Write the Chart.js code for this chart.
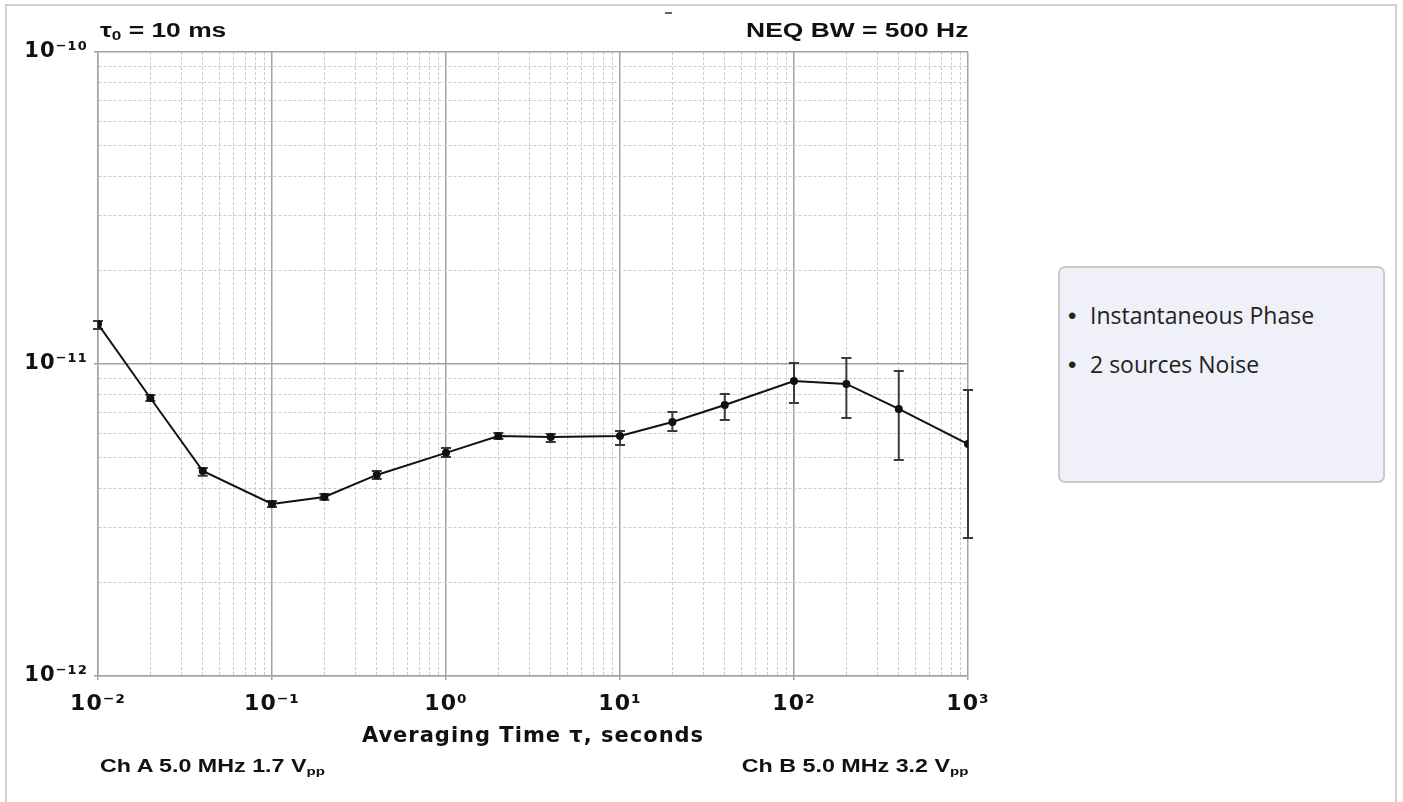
<!DOCTYPE html>
<html>
<head>
<meta charset="utf-8">
<script src="https://cdn.jsdelivr.net/npm/chart.js@4"></script>
<style>
  html, body { margin: 0; padding: 0; width: 1403px; height: 802px; overflow: hidden; background: #fff; }
  #frame { position: absolute; left: 5px; top: 4px; width: 1392px; height: 900px; box-sizing: border-box; border: 2px solid #cfcfcf; }
  #wrap { position: absolute; left: 0; top: 0; width: 1403px; height: 802px; }
  .lbl { position: absolute; font-family: 'Liberation Sans', Arial, sans-serif; font-weight: bold; color: #111; white-space: nowrap; }
  .lbl sub { font-size: 0.65em; vertical-align: -0.25em; }
  #tau0 { left: 100px; top: 20px; font-size: 20px; line-height: 20px; transform: scaleX(1.32); transform-origin: left; }
  #neq { right: 435px; top: 20px; font-size: 20px; line-height: 20px; transform: scaleX(1.32); transform-origin: right; }
  #chA { left: 100px; top: 758px; font-size: 17.5px; line-height: 17.5px; transform: scaleX(1.33); transform-origin: left; }
  #chB { right: 435px; top: 758px; font-size: 17.5px; line-height: 17.5px; transform: scaleX(1.33); transform-origin: right; }
  #speck { position: absolute; left: 665px; top: 12px; width: 7px; height: 2px; background: #666; }
  #legendBox { position: absolute; left: 1058px; top: 266px; width: 327px; height: 217px; box-sizing: border-box;
               border: 2px solid #cacaca; border-radius: 7px; background: #eff0f8; }
  .item { position: absolute; font-family: 'Open Sans', 'Noto Sans', sans-serif; font-size: 23px; line-height: 23px; color: #222; white-space: nowrap; }
  .bullet { position: absolute; font-family: 'Liberation Sans', Arial, sans-serif; font-size: 24px; line-height: 24px; color: #222; }
</style>
</head>
<body>
<div id="frame"></div>
<div id="wrap"><canvas id="graph"></canvas></div>
<div id="speck"></div>
<div class="lbl" id="tau0">τ<sub>0</sub> = 10 ms</div>
<div class="lbl" id="neq">NEQ BW = 500 Hz</div>
<div class="lbl" id="chA">Ch A 5.0 MHz 1.7 V<sub>pp</sub></div>
<div class="lbl" id="chB">Ch B 5.0 MHz 3.2 V<sub>pp</sub></div>
<div id="legendBox"></div>
<div class="bullet" style="left:1068px; top:304px;">•</div>
<div class="item" style="left:1090px; top:304px;" id="item1"></div>
<div class="bullet" style="left:1068px; top:353px;">•</div>
<div class="item" style="left:1090px; top:353px;" id="item2"></div>
<script>
// averaging time tau (s) and the measured deviation with its error bar ends
const tau = [0.01, 0.02, 0.04, 0.1, 0.2, 0.4, 1, 2, 4, 10, 20, 40, 100, 200, 400, 1000];
const adev = [1.343e-11, 0.778e-11, 0.454e-11, 0.356e-11, 0.375e-11, 0.441e-11, 0.519e-11, 0.588e-11,
              0.584e-11, 0.588e-11, 0.652e-11, 0.739e-11, 0.882e-11, 0.863e-11, 0.718e-11, 0.554e-11];
const errHigh = [1.373e-11, 0.796e-11, 0.464e-11, 0.364e-11, 0.383e-11, 0.454e-11, 0.538e-11, 0.601e-11,
                 0.597e-11, 0.610e-11, 0.702e-11, 0.801e-11, 1.007e-11, 1.045e-11, 0.950e-11, 0.825e-11];
const errLow = [1.295e-11, 0.761e-11, 0.438e-11, 0.348e-11, 0.367e-11, 0.428e-11, 0.503e-11, 0.575e-11,
                0.562e-11, 0.550e-11, 0.610e-11, 0.661e-11, 0.750e-11, 0.671e-11, 0.492e-11, 0.277e-11];

// decade ticks
const xTickValues = [1e-2, 1e-1, 1, 10, 100, 1000];
const xTickLabels = ['10⁻²', '10⁻¹', '10⁰', '10¹', '10²', '10³'];
const yTickValues = [1e-12, 1e-11, 1e-10];
const yTickLabels = ['10⁻¹²', '10⁻¹¹', '10⁻¹⁰'];

const legendItems = ['Instantaneous Phase', '2 sources Noise'];
const xTitle = 'Averaging Time τ, seconds';

document.getElementById('item1').textContent = legendItems[0];
document.getElementById('item2').textContent = legendItems[1];

// 1..9 per decade between the major values
function decadeTicks(majors) {
    let out = [];
    for (let i = 0; i < majors.length - 1; i++) {
        out.push({value: majors[i]});
        for (let k = 2; k < 10; k++) out.push({value: k * majors[i]});
    }
    out.push({value: majors[majors.length - 1]});
    return out;
}

function isMajor(v) {
    if (v === undefined) return true;
    let l = Math.log10(v);
    return Math.abs(l - Math.round(l)) < 1e-6;
}

function labelFor(values, labels, v) {
    let i = values.findIndex(t => Math.abs(t - v) / t < 1e-6);
    return i >= 0 ? labels[i] : '';
}

function gridOpts() {
    return {
        color: c => isMajor(c.tick && c.tick.value) ? '#a3a3a3' : '#cbcbcb',
        lineWidth: c => isMajor(c.tick && c.tick.value) ? 1.5 : 1,
        tickColor: c => isMajor(c.tick && c.tick.value) ? '#a3a3a3' : 'rgba(0,0,0,0)',
        tickLength: 4
    };
}

function borderOpts() {
    return {
        display: true,
        color: '#a3a3a3',
        width: 1.5,
        dash: c => isMajor(c.tick && c.tick.value) ? [] : [3, 2]
    };
}

// error bars drawn under the line
const errorBars = {
    id: 'errorBars',
    beforeDatasetsDraw(chart) {
        let ctx = chart.ctx;
        let xs = chart.scales.x, ys = chart.scales.y;
        ctx.save();
        ctx.strokeStyle = '#3a3a3a';
        ctx.lineWidth = 2;
        for (let i = 0; i < tau.length; i++) {
            let px = xs.getPixelForValue(tau[i]);
            let top = ys.getPixelForValue(errHigh[i]);
            let bot = ys.getPixelForValue(errLow[i]);
            ctx.beginPath();
            ctx.moveTo(px, top); ctx.lineTo(px, bot);
            ctx.moveTo(px - 5, top); ctx.lineTo(px + 5, top);
            ctx.moveTo(px - 5, bot); ctx.lineTo(px + 5, bot);
            ctx.stroke();
        }
        ctx.restore();
    }
};

// the scanned plot has wide lettering
const wideText = {
    id: 'wideText',
    beforeUpdate(chart) { chart.ctx.letterSpacing = '1px'; },
    beforeDraw(chart) { chart.ctx.letterSpacing = '1px'; }
};

let points = tau.map((t, i) => ({x: t, y: adev[i]}));

let config = {
    type: 'line',
    data: {
        datasets: [{
            label: legendItems[0],
            data: points,
            borderColor: '#111',
            borderWidth: 2,
            pointRadius: 3,
            pointBackgroundColor: '#111',
            pointBorderColor: '#111',
            tension: 0
        }]
    },
    options: {
        responsive: true,
        maintainAspectRatio: false,
        animation: false,
        layout: { padding: { left: 0, top: 52, right: 435, bottom: 50 } },
        plugins: {
            legend: { display: false },
            tooltip: { enabled: false }
        },
        scales: {
            x: {
                type: 'logarithmic',
                min: 1e-2,
                max: 1e3,
                afterBuildTicks: s => { s.ticks = decadeTicks(xTickValues); },
                afterFit: s => { s.height = 76; },
                ticks: {
                    autoSkip: false,
                    maxRotation: 0,
                    padding: 11,
                    color: '#111',
                    font: { family: 'DejaVu Sans', weight: 'bold', size: 22 },
                    callback: v => labelFor(xTickValues, xTickLabels, v)
                },
                grid: gridOpts(),
                border: borderOpts(),
                title: {
                    display: true,
                    text: xTitle,
                    color: '#111',
                    font: { family: 'DejaVu Sans', weight: 'bold', size: 21 },
                    padding: { top: 4, bottom: 3 }
                }
            },
            y: {
                type: 'logarithmic',
                min: 1e-12,
                max: 1e-10,
                afterBuildTicks: s => { s.ticks = decadeTicks(yTickValues); },
                afterFit: s => { s.width = 98; },
                ticks: {
                    autoSkip: false,
                    padding: 6,
                    color: '#111',
                    font: { family: 'DejaVu Sans', weight: 'bold', size: 21 },
                    callback: v => labelFor(yTickValues, yTickLabels, v)
                },
                grid: gridOpts(),
                border: borderOpts()
            }
        }
    },
    plugins: [errorBars, wideText]
};

let myChart = new Chart(document.getElementById('graph'), config);
</script>
</body>
</html>
